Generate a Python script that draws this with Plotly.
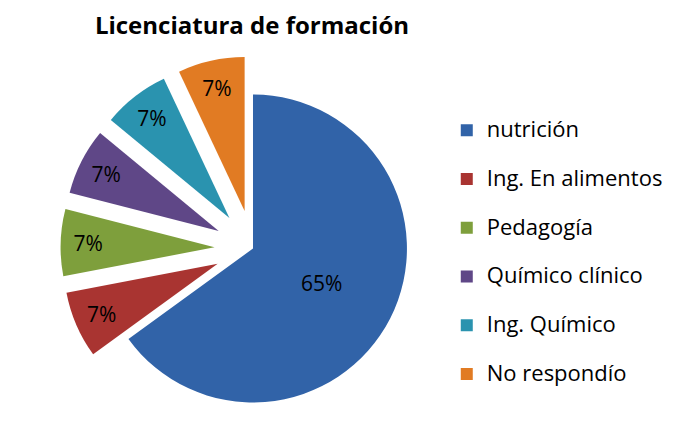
import plotly.graph_objects as go

categories = ["nutrición", "Ing. En alimentos", "Pedagogía", "Químico clínico", "Ing. Químico", "No respondío"]
values = [65, 7, 7, 7, 7, 7]
colors = ["#3163A8", "#A93431", "#7E9F3C", "#5F4787", "#2A93AF", "#E17B23"]
pulls = [0, 0.25, 0.25, 0.25, 0.25, 0.25]

legend_labels = ['<span style="font-size:22px">' + c + '</span><br> ' for c in categories]

fig = go.Figure(go.Pie(
    labels=legend_labels,
    values=values,
    customdata=categories,
    sort=False,
    direction="clockwise",
    rotation=0,
    pull=pulls,
    marker=dict(colors=colors, line=dict(width=0)),
    textinfo="percent",
    texttemplate="%{percent:.0%}",
    textposition="inside",
    insidetextorientation="horizontal",
    textfont=dict(family="Open Sans", size=21, color="#000000"),
    hovertemplate="%{customdata}: %{value}<extra></extra>",
    domain=dict(x=[0.078, 0.649], y=[0, 0.889]),
))

fig.update_layout(
    width=674, height=433,
    margin=dict(l=0, r=0, t=0, b=0, autoexpand=False),
    paper_bgcolor="white",
    plot_bgcolor="white",
    title=dict(text="<b>Licenciatura de formación</b>", x=0.362, xanchor="center",
               y=0.96, yanchor="middle",
               font=dict(family="Open Sans", size=24, color="#000000")),
    legend=dict(x=0.651, y=0.759, yanchor="top", xanchor="left", valign="top",
                font=dict(family="Open Sans", size=17.6, color="#000000"),
                tracegroupgap=0),
    showlegend=True,
)

fig.write_html("out.html")
